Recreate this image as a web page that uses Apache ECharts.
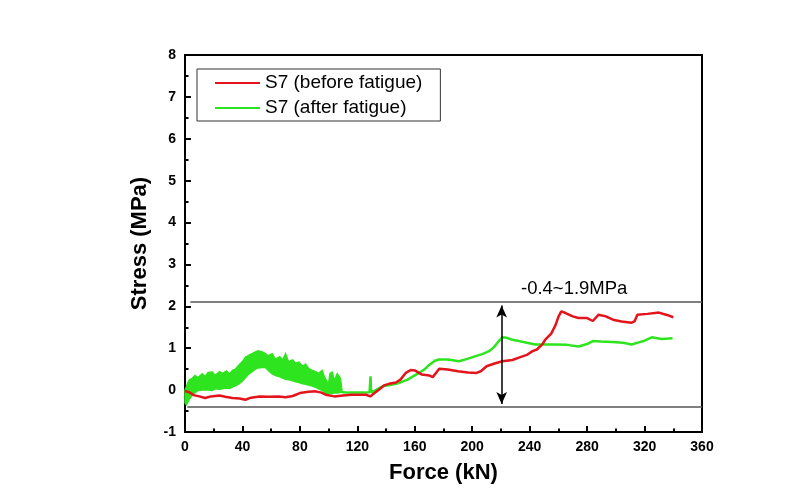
<!DOCTYPE html>
<html><head><meta charset="utf-8">
<script src="https://cdn.jsdelivr.net/npm/echarts@6/dist/echarts.min.js"></script>
<style>html,body{margin:0;padding:0;background:#fff}#c{width:811px;height:491px}</style>
</head><body><div id="c"></div>
<script>
// ---- data ----
const xTicks = [0, 40, 80, 120, 160, 200, 240, 280, 320, 360];
const yTicks = [-1, 0, 1, 2, 3, 4, 5, 6, 7, 8];

const redX = [0,3,6,10,14,18,24,28,33,38,42,46,52,58,65,70,75,80,86,91,95,98,104,110,116,122,126,129,132,135,139,142,146.8,150,153.7,157.2,160,165,170,172.5,175,177,183,190,197,203,206,210,215,221,228,233,238,242,245,249,251,255,258,260,262,265,270,274,280,284,288,293,298,304,311,313,315,322,330,335,337,340];
const redY = [-0.02,-0.05,-0.12,-0.15,-0.19,-0.15,-0.13,-0.16,-0.19,-0.2,-0.23,-0.18,-0.15,-0.16,-0.15,-0.17,-0.14,-0.07,-0.04,-0.03,-0.06,-0.11,-0.15,-0.13,-0.11,-0.11,-0.11,-0.15,-0.07,0.01,0.12,0.15,0.18,0.25,0.41,0.48,0.47,0.37,0.35,0.31,0.42,0.51,0.49,0.45,0.42,0.41,0.45,0.57,0.63,0.69,0.72,0.78,0.84,0.93,0.97,1.1,1.21,1.35,1.55,1.75,1.88,1.84,1.76,1.72,1.72,1.65,1.8,1.76,1.68,1.64,1.61,1.64,1.8,1.82,1.85,1.8,1.78,1.74];

const greenX = [109.4,115,120,125,128.5,129.2,129.6,132,137.5,143,149,155,160,163,167,170,174,177,183,190.8,196,202.4,207,211.7,215,218,221,224,228,232.6,238,244,250,258,266,274,280,284,290,297.5,305,311,316,320,325,332,339.5];
const greenY = [-0.05,-0.06,-0.06,-0.06,-0.05,0.33,-0.05,-0.02,0.09,0.12,0.17,0.25,0.35,0.41,0.5,0.6,0.7,0.73,0.73,0.69,0.74,0.81,0.86,0.93,1.02,1.15,1.26,1.25,1.2,1.17,1.13,1.09,1.09,1.09,1.08,1.04,1.1,1.17,1.16,1.15,1.13,1.09,1.14,1.18,1.26,1.22,1.24];

// noisy band of the after-fatigue signal (lower / upper envelope)
const bandX    = [0,1,2,3,5,7,9,12,14,16,19,21,24,26,29,31,33,35,37.6,40,42.2,44,46,49,51,53.8,56,58,60.7,63,66,68,70,72,75,77,79.3,82,84,86,88.6,91,93,95.5,97,99,100,101,102.5,104,106,107.5,108.3,109.4];
const bandLow  = [-0.3,-0.35,-0.28,-0.22,-0.12,-0.06,-0.01,0,0.01,0,-0.01,0.03,0.02,0.03,0.05,0.04,0.07,0.1,0.15,0.22,0.3,0.37,0.42,0.5,0.53,0.54,0.54,0.47,0.39,0.35,0.32,0.29,0.26,0.25,0.22,0.2,0.18,0.15,0.14,0.12,0.1,0.07,0.03,-0.01,-0.05,-0.08,-0.08,-0.08,-0.08,-0.07,-0.07,-0.06,-0.06,-0.05];
const bandHigh = [0,0.08,0.18,0.24,0.28,0.35,0.3,0.39,0.32,0.42,0.43,0.35,0.44,0.4,0.46,0.38,0.47,0.5,0.6,0.68,0.79,0.82,0.86,0.91,0.94,0.91,0.87,0.82,0.87,0.74,0.8,0.72,0.87,0.68,0.72,0.64,0.67,0.57,0.62,0.52,0.47,0.44,0.4,0.47,0.32,0.19,0.17,0.4,0.43,0.22,0.39,0.32,0.27,-0.05];

const upperLevel = 2.1, lowerLevel = -0.39;
const arrowX = 220.5, arrowTop = 2.02, arrowBottom = -0.33;
const noteText = '-0.4~1.9MPa', noteX = 271, noteY = 2.42;

const redName = 'S7 (before fatigue)', greenName = 'S7 (after fatigue)';
const RED = '#e3141b', GREEN = '#2ee41e';

// ---- chart ----
const chart = echarts.init(document.getElementById('c'), null, {renderer: 'canvas'});
const FONT = 'Arial, "Liberation Sans", sans-serif';
const tickLbl = {color: '#000', fontWeight: 'bold', fontSize: 14, fontFamily: FONT};

const bandPts = bandX.map((x, i) => [x, bandHigh[i]]).concat(bandX.map((x, i) => [x, bandLow[i]]).reverse());

chart.setOption({
  animation: false,
  backgroundColor: '#fff',
  grid: {left: 185, top: 55, width: 517, height: 377, show: true, borderColor: '#000', borderWidth: 2, backgroundColor: 'transparent'},
  legend: {
    data: [redName, greenName], orient: 'vertical', left: 197, top: 69,
    padding: [4, 18, 3, 18], itemGap: 5, itemWidth: 45, itemHeight: 2, icon: 'rect',
    borderColor: '#333', borderWidth: 1, backgroundColor: '#fff',
    textStyle: {fontSize: 19, fontFamily: FONT, color: '#000', lineHeight: 20}
  },
  xAxis: {
    type: 'value', min: 0, max: 360, interval: 40,
    name: 'Force (kN)', nameLocation: 'middle', nameGap: 30,
    nameTextStyle: {fontSize: 22, fontWeight: 'bold', fontFamily: FONT, color: '#000'},
    axisLine: {onZero: false, lineStyle: {color: '#000', width: 2}},
    axisTick: {inside: true, length: 6, lineStyle: {color: '#000', width: 2}},
    minorTick: {show: true, splitNumber: 2, length: 3.5, lineStyle: {color: '#000', width: 2}},
    axisLabel: Object.assign({margin: 8, formatter: v => xTicks.includes(v) ? String(v) : ''}, tickLbl),
    splitLine: {show: false}
  },
  yAxis: {
    type: 'value', min: -1, max: 8, interval: 1,
    name: 'Stress (MPa)', nameLocation: 'middle', nameGap: 34,
    nameTextStyle: {fontSize: 22, fontWeight: 'bold', fontFamily: FONT, color: '#000'},
    axisLine: {show: true, onZero: false, lineStyle: {color: '#000', width: 2}},
    axisTick: {show: true, inside: true, length: 6, lineStyle: {color: '#000', width: 2}},
    minorTick: {show: true, splitNumber: 2, length: 3.5, lineStyle: {color: '#000', width: 2}},
    axisLabel: Object.assign({margin: 9, formatter: v => yTicks.includes(v) ? String(v) : ''}, tickLbl),
    splitLine: {show: false}
  },
  series: [
    {
      type: 'custom', name: 'band', silent: true, z: 2,
      data: [[0, 0]],
      renderItem: (params, api) => ({
        type: 'polygon',
        shape: {points: bandPts.map(p => api.coord(p))},
        style: {fill: GREEN, stroke: GREEN, lineWidth: 1.5}
      })
    },
    {
      name: greenName, type: 'line', showSymbol: false, symbol: 'none', z: 3,
      data: greenX.map((x, i) => [x, greenY[i]]),
      lineStyle: {color: GREEN, width: 2.5}, itemStyle: {color: GREEN}
    },
    {
      name: redName, type: 'line', showSymbol: false, symbol: 'none', z: 4,
      data: redX.map((x, i) => [x, redY[i]]),
      lineStyle: {color: RED, width: 2.5}, itemStyle: {color: RED},
      markLine: {
        silent: true, animation: false,
        label: {show: false},
        data: [
          [{coord: [3.7, upperLevel], symbol: 'none', lineStyle: {color: '#555', width: 1.5, type: 'solid'}}, {coord: [360, upperLevel], symbol: 'none'}],
          [{coord: [1.6, lowerLevel], symbol: 'none', lineStyle: {color: '#555', width: 1.5, type: 'solid'}}, {coord: [360, lowerLevel], symbol: 'none'}],
          [{coord: [arrowX, arrowTop], symbol: 'arrow', symbolSize: [8, 12], lineStyle: {color: '#000', width: 1.5, type: 'solid'}}, {coord: [arrowX, arrowBottom], symbol: 'arrow', symbolSize: [8, 12]}]
        ]
      },
      markPoint: {
        silent: true,
        data: [{coord: [noteX, noteY], symbol: 'circle', symbolSize: 1, itemStyle: {color: 'rgba(0,0,0,0)'},
          label: {show: true, position: 'inside', formatter: noteText, color: '#000', fontSize: 18.5, fontFamily: FONT}}]
      }
    }
  ]
});
</script>
</body></html>
